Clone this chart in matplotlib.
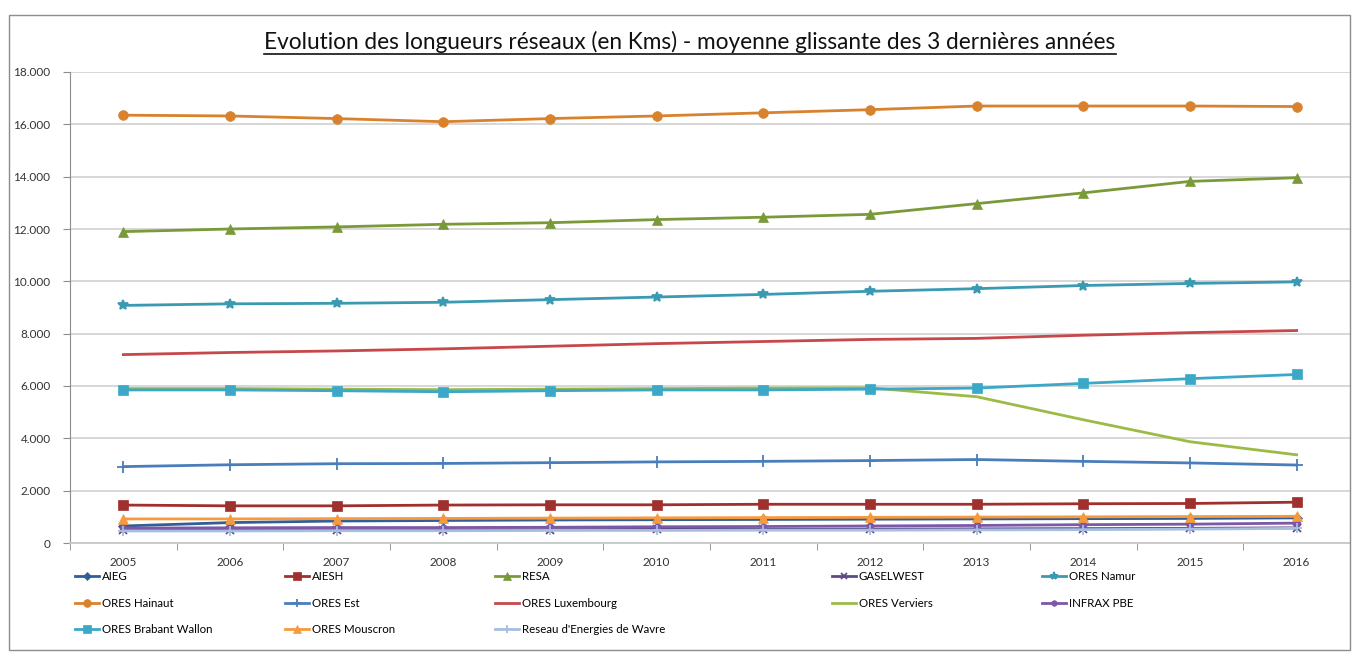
import numpy as np
import matplotlib.pyplot as plt
from matplotlib.patches import Rectangle
from matplotlib.lines import Line2D
from matplotlib.ticker import FuncFormatter, FixedLocator

plt.rcParams['font.family'] = ['Lato', 'DejaVu Sans']

# données (moyenne glissante, en km)
years = ['2005', '2006', '2007', '2008', '2009', '2010',
         '2011', '2012', '2013', '2014', '2015', '2016']

aieg = [650, 780, 840, 860, 880, 890, 900, 910, 920, 930, 940, 960]
aiesh = [1450, 1420, 1420, 1450, 1460, 1460, 1480, 1480, 1480, 1500, 1510, 1560]
resa = [11900, 12000, 12080, 12180, 12240, 12360, 12450, 12560, 12970, 13380, 13820, 13960]
gaselwest = [480, 490, 500, 500, 510, 520, 520, 530, 540, 550, 560, 580]
ores_namur = [9080, 9140, 9160, 9200, 9300, 9400, 9500, 9620, 9720, 9840, 9920, 9980]
ores_hainaut = [16350, 16320, 16220, 16100, 16220, 16320, 16440, 16560, 16700, 16700, 16700, 16680]
ores_est = [2920, 2990, 3030, 3040, 3070, 3100, 3120, 3150, 3190, 3120, 3060, 2980]
ores_luxembourg = [7200, 7280, 7340, 7420, 7520, 7620, 7700, 7780, 7820, 7940, 8040, 8120]
ores_verviers = [5900, 5900, 5880, 5860, 5880, 5900, 5920, 5930, 5590, 4710, 3870, 3370]
infrax_pbe = [570, 580, 590, 590, 600, 620, 630, 650, 670, 700, 720, 760]
ores_bw = [5850, 5850, 5820, 5780, 5820, 5850, 5850, 5880, 5920, 6100, 6280, 6440]
ores_mouscron = [920, 920, 930, 940, 950, 960, 970, 980, 990, 1000, 1010, 1020]
wavre = [460, 460, 470, 470, 480, 480, 490, 490, 500, 510, 530, 560]

series = [
    ('AIEG', aieg, '#2F5F98', 'D', 5),
    ('AIESH', aiesh, '#A0302E', 's', 7),
    ('RESA', resa, '#7A9A3A', '^', 7),
    ('GASELWEST', gaselwest, '#5E4A86', 'x', 6),
    ('ORES Namur', ores_namur, '#3A9AB2', '*', 7),
    ('ORES Hainaut', ores_hainaut, '#D9822E', 'o', 7),
    ('ORES Est', ores_est, '#4A7EBB', '+', 8),
    ('ORES Luxembourg', ores_luxembourg, '#C8474A', None, 0),
    ('ORES Verviers', ores_verviers, '#9CBB46', None, 0),
    ('INFRAX PBE', infrax_pbe, '#7B58A8', 'o', 5),
    ('ORES Brabant Wallon', ores_bw, '#3AA8C6', 's', 7),
    ('ORES Mouscron', ores_mouscron, '#F79A3E', '^', 7),
    ("Reseau d'Energies de Wavre", wavre, '#A6BEDF', '+', 7),
]

W, H = 1358, 655
fig = plt.figure(figsize=(W / 100, H / 100), dpi=100)

# cadre du graphique
fig.patches.append(Rectangle((9 / W, 5 / H), 1341 / W, 635 / H, transform=fig.transFigure,
                             fill=False, edgecolor='#8c8c8c', linewidth=1.0))

ax = fig.add_axes([70 / W, (H - 543) / H, 1280 / W, 471 / H])
x = np.arange(len(years))

handles = []
for name, vals, color, marker, ms in series:
    ln, = ax.plot(x, vals, color=color, linewidth=2, marker=marker, markersize=ms,
                  markeredgewidth=1.3 if marker in ('x', '+', '*') else 0.5,
                  markeredgecolor=color, label=name, zorder=3)
    handles.append(ln)

ax.set_xlim(-0.5, len(years) - 0.5)
ax.set_ylim(0, 18000)
ax.set_yticks(np.arange(0, 18001, 2000))
ax.yaxis.set_major_formatter(FuncFormatter(lambda v, p: f'{int(v):,}'.replace(',', '.')))
ax.set_xticks(x)
ax.set_xticklabels(years)
ax.xaxis.set_minor_locator(FixedLocator(np.arange(-0.5, len(years), 1)))
ax.tick_params(axis='x', which='major', length=0, pad=10, labelsize=8.5, colors='#333333')
ax.tick_params(axis='x', which='minor', length=5, color='#8c8c8c')
ax.tick_params(axis='y', length=5, color='#8c8c8c', labelsize=8.5, colors='#333333', pad=9)
ax.grid(axis='y', color='#d4d4d4', linewidth=1.3, zorder=0)
ax.set_axisbelow(True)
for s in ('top', 'right'):
    ax.spines[s].set_visible(False)
ax.spines['left'].set_color('#8c8c8c')
ax.spines['bottom'].set_color('#c8c8c8')
ax.spines['bottom'].set_linewidth(1.3)

# titre souligné
title = fig.text(690 / W, 1 - 42 / H, 'Evolution des longueurs réseaux (en Kms) - moyenne glissante des 3 dernières années',
                 ha='center', va='center', fontsize=16.3, color='#111111')
fig.canvas.draw()
bb = title.get_window_extent().transformed(fig.transFigure.inverted())
fig.lines.append(Line2D([bb.x0, bb.x1], [bb.y0 - 1 / H, bb.y0 - 1 / H], transform=fig.transFigure,
                        color='#111111', linewidth=1.2))

# légende sur 5 colonnes, remplie ligne par ligne
col_x = [75, 285, 495, 832, 1042]
for c in range(5):
    hs = handles[c::5]
    fig.legend(handles=hs, labels=[h.get_label() for h in hs], loc='upper left',
               bbox_to_anchor=(col_x[c] / W, 1 - 571 / H), frameon=False, fontsize=8.3,
               handlelength=2.1, handletextpad=0.2, labelspacing=1.35, borderaxespad=0,
               borderpad=0, markerscale=0.8)

fig.savefig('out.png', dpi=100)
